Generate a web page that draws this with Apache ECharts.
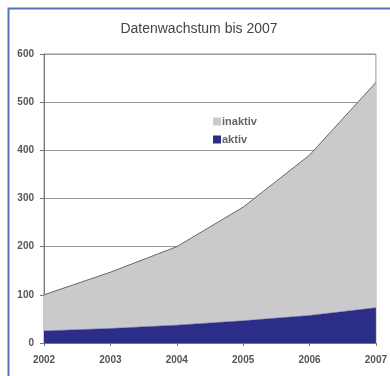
<!DOCTYPE html>
<html><head><meta charset="utf-8">
<script src="https://cdn.jsdelivr.net/npm/echarts@6/dist/echarts.min.js"></script>
<style>html,body{margin:0;padding:0;background:#fff}#c{width:390px;height:376px}</style>
</head><body><div id="c"></div>
<script>
const categories = ['2002','2003','2004','2005','2006','2007'];
const aktiv = [25, 30, 37, 46, 57, 73];
const total = [100, 147, 200, 282, 390, 541];
const inaktiv = total.map((t,i)=>t-aktiv[i]);
const yTicks = [0,100,200,300,400,500,600];

const chart = echarts.init(document.getElementById('c'));
chart.setOption({
  animation:false,
  title:{text:'Datenwachstum bis 2007',left:194,top:17,textAlign:'center',
    textStyle:{fontFamily:'Liberation Sans',fontSize:14,fontWeight:'normal',color:'#444'}},
  graphic:[{type:'rect',shape:{x:8.5,y:8.5,width:420,height:420},
    style:{fill:'none',stroke:'#4f78b4',lineWidth:2},z:100}],
  legend:{left:208,top:111,orient:'vertical',itemWidth:8,itemHeight:8,itemGap:7,
    data:['inaktiv','aktiv'],icon:'rect',
    textStyle:{fontFamily:'Liberation Sans',fontSize:11,fontWeight:'bold',color:'#666',padding:[0,0,0,-4]}},
  grid:{left:44,right:10,top:54,bottom:33,show:true,borderColor:'#999',borderWidth:1},
  xAxis:{type:'category',data:categories,boundaryGap:false,
    axisLine:{lineStyle:{color:'#777',width:1}},
    axisTick:{show:true,length:3,alignWithLabel:true,lineStyle:{color:'#777'}},
    axisLabel:{fontFamily:'Liberation Sans',fontSize:10,fontWeight:'bold',color:'#555',margin:12}},
  yAxis:{type:'value',min:0,max:600,interval:100,
    axisLine:{show:true,lineStyle:{color:'#777'}},
    axisTick:{show:true,length:4,lineStyle:{color:'#777'}},
    splitLine:{lineStyle:{color:'#999',width:1}},
    axisLabel:{fontFamily:'Liberation Sans',fontSize:10,fontWeight:'bold',color:'#555',margin:10,
      formatter:v=>yTicks.includes(v)?String(v):''}},
  series:[
    {name:'aktiv',type:'line',stack:'s',data:aktiv,symbol:'none',
      lineStyle:{width:0.5,color:'#2c2d88'},areaStyle:{color:'#2c2d88',opacity:1},
      itemStyle:{color:'#2c2d88'}},
    {name:'inaktiv',type:'line',stack:'s',data:inaktiv,symbol:'none',
      lineStyle:{width:1,color:'#666'},areaStyle:{color:'#cacacd',opacity:1},
      itemStyle:{color:'#cacacd'}}
  ]
});
</script></body></html>
